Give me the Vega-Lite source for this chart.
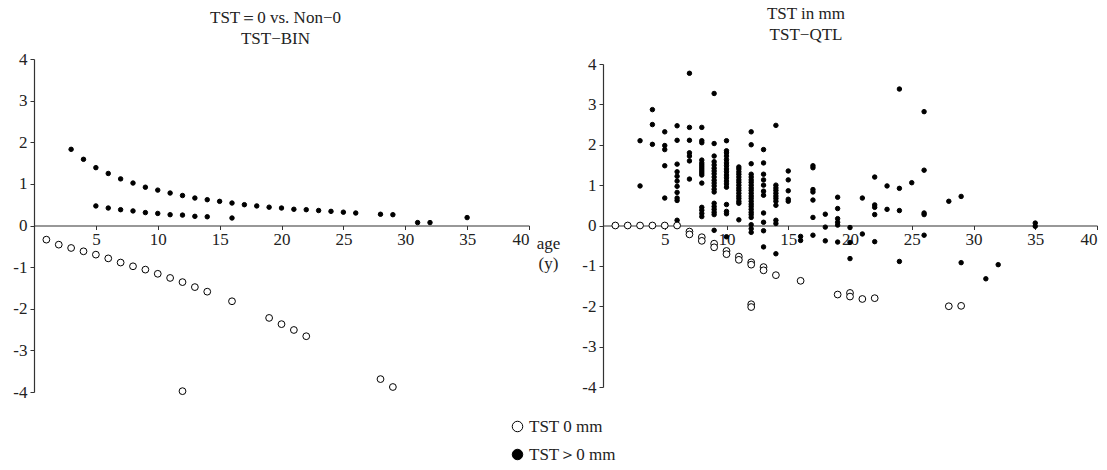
{
  "$schema": "https://vega.github.io/schema/vega-lite/v6.json",
  "background": "white",
  "padding": {"left": 12, "top": 5, "right": 5, "bottom": 5},
  "config": {
    "font": "Liberation Serif",
    "view": {"stroke": null},
    "axis": {
      "grid": false,
      "domainColor": "#333333",
      "domainWidth": 1.2,
      "tickColor": "#333333",
      "tickSize": 4,
      "labelFont": "Liberation Serif",
      "labelFontSize": 17,
      "labelColor": "#222222",
      "titleFont": "Liberation Serif",
      "titleFontSize": 17,
      "titleFontWeight": "normal",
      "titleColor": "#222222"
    },
    "legend": {
      "orient": "none", "legendX": 475, "legendY": 359, "direction": "vertical", "title": null,
      "labelFontSize": 17, "labelFont": "Liberation Serif", "labelColor": "#222222",
      "symbolType": "circle", "symbolSize": 110, "symbolStrokeColor": "black", "symbolStrokeWidth": 1, "symbolOpacity": 1,
      "rowPadding": 10, "labelOffset": 3
    },
    "title": {"font": "Liberation Serif", "fontSize": 17, "fontWeight": "normal", "color": "#222222", "lineHeight": 21}
  },
  "data": {
    "values": [
      {"p":"B","g":"f","a":3,"v":1.83},{"p":"B","g":"f","a":4,"v":1.59},{"p":"B","g":"f","a":5,"v":1.39},{"p":"B","g":"f","a":6,"v":1.25},{"p":"B","g":"f","a":7,"v":1.12},{"p":"B","g":"f","a":8,"v":1.02},{"p":"B","g":"f","a":9,"v":0.92},{"p":"B","g":"f","a":10,"v":0.85},{"p":"B","g":"f","a":11,"v":0.78},{"p":"B","g":"f","a":12,"v":0.72},{"p":"B","g":"f","a":13,"v":0.66},{"p":"B","g":"f","a":14,"v":0.62},{"p":"B","g":"f","a":15,"v":0.58},{"p":"B","g":"f","a":16,"v":0.54},{"p":"B","g":"f","a":17,"v":0.5},{"p":"B","g":"f","a":18,"v":0.47},{"p":"B","g":"f","a":19,"v":0.44},{"p":"B","g":"f","a":20,"v":0.42},{"p":"B","g":"f","a":21,"v":0.39},{"p":"B","g":"f","a":22,"v":0.38},{"p":"B","g":"f","a":23,"v":0.36},{"p":"B","g":"f","a":24,"v":0.34},{"p":"B","g":"f","a":25,"v":0.32},{"p":"B","g":"f","a":26,"v":0.3},{"p":"B","g":"f","a":28,"v":0.27},{"p":"B","g":"f","a":29,"v":0.26},{"p":"B","g":"f","a":31,"v":0.07},{"p":"B","g":"f","a":32,"v":0.07},{"p":"B","g":"f","a":35,"v":0.19},
      {"p":"B","g":"f","a":5,"v":0.47},{"p":"B","g":"f","a":6,"v":0.42},{"p":"B","g":"f","a":7,"v":0.38},{"p":"B","g":"f","a":8,"v":0.35},{"p":"B","g":"f","a":9,"v":0.31},{"p":"B","g":"f","a":10,"v":0.29},{"p":"B","g":"f","a":11,"v":0.26},{"p":"B","g":"f","a":12,"v":0.25},{"p":"B","g":"f","a":13,"v":0.22},{"p":"B","g":"f","a":14,"v":0.21},{"p":"B","g":"f","a":16,"v":0.18},
      {"p":"B","g":"o","a":1,"v":-0.34},{"p":"B","g":"o","a":2,"v":-0.46},{"p":"B","g":"o","a":3,"v":-0.54},{"p":"B","g":"o","a":4,"v":-0.62},{"p":"B","g":"o","a":5,"v":-0.7},{"p":"B","g":"o","a":6,"v":-0.79},{"p":"B","g":"o","a":7,"v":-0.89},{"p":"B","g":"o","a":8,"v":-0.98},{"p":"B","g":"o","a":9,"v":-1.06},{"p":"B","g":"o","a":10,"v":-1.16},{"p":"B","g":"o","a":11,"v":-1.26},{"p":"B","g":"o","a":12,"v":-1.36},{"p":"B","g":"o","a":13,"v":-1.48},{"p":"B","g":"o","a":14,"v":-1.59},{"p":"B","g":"o","a":16,"v":-1.82},{"p":"B","g":"o","a":19,"v":-2.22},{"p":"B","g":"o","a":20,"v":-2.37},{"p":"B","g":"o","a":21,"v":-2.51},{"p":"B","g":"o","a":22,"v":-2.66},{"p":"B","g":"o","a":12,"v":-3.98},{"p":"B","g":"o","a":28,"v":-3.69},{"p":"B","g":"o","a":29,"v":-3.88},

      {"p":"Q","g":"f","a":3,"v":2.1},{"p":"Q","g":"f","a":3,"v":0.98},
      {"p":"Q","g":"f","a":4,"v":2.87},{"p":"Q","g":"f","a":4,"v":2.5},{"p":"Q","g":"f","a":4,"v":2.01},
      {"p":"Q","g":"f","a":5,"v":2.32},{"p":"Q","g":"f","a":5,"v":1.98},{"p":"Q","g":"f","a":5,"v":1.88},{"p":"Q","g":"f","a":5,"v":1.48},{"p":"Q","g":"f","a":5,"v":0.68},
      {"p":"Q","g":"f","a":6,"v":2.47},{"p":"Q","g":"f","a":6,"v":2.11},{"p":"Q","g":"f","a":6,"v":1.52},{"p":"Q","g":"f","a":6,"v":1.33},{"p":"Q","g":"f","a":6,"v":1.22},{"p":"Q","g":"f","a":6,"v":1.1},{"p":"Q","g":"f","a":6,"v":0.97},{"p":"Q","g":"f","a":6,"v":0.82},{"p":"Q","g":"f","a":6,"v":0.68},{"p":"Q","g":"f","a":6,"v":0.62},{"p":"Q","g":"f","a":6,"v":0.13},
      {"p":"Q","g":"f","a":7,"v":3.77},{"p":"Q","g":"f","a":7,"v":2.43},{"p":"Q","g":"f","a":7,"v":2.11},{"p":"Q","g":"f","a":7,"v":1.8},{"p":"Q","g":"f","a":7,"v":1.72},{"p":"Q","g":"f","a":7,"v":1.6},{"p":"Q","g":"f","a":7,"v":1.15},
      {"p":"Q","g":"f","a":8,"v":2.43},{"p":"Q","g":"f","a":8,"v":2.1},{"p":"Q","g":"f","a":8,"v":2.05},{"p":"Q","g":"f","a":8,"v":1.62},{"p":"Q","g":"f","a":8,"v":1.55},{"p":"Q","g":"f","a":8,"v":1.5},{"p":"Q","g":"f","a":8,"v":1.45},{"p":"Q","g":"f","a":8,"v":1.4},{"p":"Q","g":"f","a":8,"v":1.35},{"p":"Q","g":"f","a":8,"v":1.3},{"p":"Q","g":"f","a":8,"v":1.25},{"p":"Q","g":"f","a":8,"v":1.05},{"p":"Q","g":"f","a":8,"v":0.45},{"p":"Q","g":"f","a":8,"v":0.38},{"p":"Q","g":"f","a":8,"v":0.3},{"p":"Q","g":"f","a":8,"v":0.22},
      {"p":"Q","g":"f","a":9,"v":3.27},{"p":"Q","g":"f","a":9,"v":2.03},{"p":"Q","g":"f","a":9,"v":1.72},{"p":"Q","g":"f","a":9,"v":1.58},{"p":"Q","g":"f","a":9,"v":1.5},{"p":"Q","g":"f","a":9,"v":1.42},{"p":"Q","g":"f","a":9,"v":1.35},{"p":"Q","g":"f","a":9,"v":1.28},{"p":"Q","g":"f","a":9,"v":1.2},{"p":"Q","g":"f","a":9,"v":1.12},{"p":"Q","g":"f","a":9,"v":1.05},{"p":"Q","g":"f","a":9,"v":0.98},{"p":"Q","g":"f","a":9,"v":0.9},{"p":"Q","g":"f","a":9,"v":0.83},{"p":"Q","g":"f","a":9,"v":0.55},{"p":"Q","g":"f","a":9,"v":0.47},{"p":"Q","g":"f","a":9,"v":0.4},{"p":"Q","g":"f","a":9,"v":0.33},{"p":"Q","g":"f","a":9,"v":0.27},{"p":"Q","g":"f","a":9,"v":-0.12},
      {"p":"Q","g":"f","a":10,"v":2.1},{"p":"Q","g":"f","a":10,"v":1.85},{"p":"Q","g":"f","a":10,"v":1.8},{"p":"Q","g":"f","a":10,"v":1.72},{"p":"Q","g":"f","a":10,"v":1.63},{"p":"Q","g":"f","a":10,"v":1.55},{"p":"Q","g":"f","a":10,"v":1.48},{"p":"Q","g":"f","a":10,"v":1.4},{"p":"Q","g":"f","a":10,"v":1.33},{"p":"Q","g":"f","a":10,"v":1.25},{"p":"Q","g":"f","a":10,"v":1.18},{"p":"Q","g":"f","a":10,"v":1.1},{"p":"Q","g":"f","a":10,"v":1.03},{"p":"Q","g":"f","a":10,"v":0.95},{"p":"Q","g":"f","a":10,"v":0.52},{"p":"Q","g":"f","a":10,"v":0.35},{"p":"Q","g":"f","a":10,"v":0.29},{"p":"Q","g":"f","a":10,"v":-0.28},
      {"p":"Q","g":"f","a":11,"v":1.45},{"p":"Q","g":"f","a":11,"v":1.4},{"p":"Q","g":"f","a":11,"v":1.33},{"p":"Q","g":"f","a":11,"v":1.27},{"p":"Q","g":"f","a":11,"v":1.2},{"p":"Q","g":"f","a":11,"v":1.13},{"p":"Q","g":"f","a":11,"v":1.07},{"p":"Q","g":"f","a":11,"v":1.0},{"p":"Q","g":"f","a":11,"v":0.93},{"p":"Q","g":"f","a":11,"v":0.87},{"p":"Q","g":"f","a":11,"v":0.8},{"p":"Q","g":"f","a":11,"v":0.73},{"p":"Q","g":"f","a":11,"v":0.67},{"p":"Q","g":"f","a":11,"v":0.6},{"p":"Q","g":"f","a":11,"v":0.55},{"p":"Q","g":"f","a":11,"v":0.14},
      {"p":"Q","g":"f","a":12,"v":2.32},{"p":"Q","g":"f","a":12,"v":2.0},{"p":"Q","g":"f","a":12,"v":1.53},{"p":"Q","g":"f","a":12,"v":1.27},{"p":"Q","g":"f","a":12,"v":1.2},{"p":"Q","g":"f","a":12,"v":1.13},{"p":"Q","g":"f","a":12,"v":1.07},{"p":"Q","g":"f","a":12,"v":1.0},{"p":"Q","g":"f","a":12,"v":0.93},{"p":"Q","g":"f","a":12,"v":0.87},{"p":"Q","g":"f","a":12,"v":0.8},{"p":"Q","g":"f","a":12,"v":0.73},{"p":"Q","g":"f","a":12,"v":0.67},{"p":"Q","g":"f","a":12,"v":0.6},{"p":"Q","g":"f","a":12,"v":0.53},{"p":"Q","g":"f","a":12,"v":0.47},{"p":"Q","g":"f","a":12,"v":0.4},{"p":"Q","g":"f","a":12,"v":0.33},{"p":"Q","g":"f","a":12,"v":0.27},{"p":"Q","g":"f","a":12,"v":0.2},{"p":"Q","g":"f","a":12,"v":0.02},{"p":"Q","g":"f","a":12,"v":-0.08},{"p":"Q","g":"f","a":12,"v":-0.17},
      {"p":"Q","g":"f","a":13,"v":1.88},{"p":"Q","g":"f","a":13,"v":1.55},{"p":"Q","g":"f","a":13,"v":1.27},{"p":"Q","g":"f","a":13,"v":1.13},{"p":"Q","g":"f","a":13,"v":1.0},{"p":"Q","g":"f","a":13,"v":0.85},{"p":"Q","g":"f","a":13,"v":0.75},{"p":"Q","g":"f","a":13,"v":0.31},{"p":"Q","g":"f","a":13,"v":0.08},{"p":"Q","g":"f","a":13,"v":-0.13},{"p":"Q","g":"f","a":13,"v":-0.53},
      {"p":"Q","g":"f","a":14,"v":2.48},{"p":"Q","g":"f","a":14,"v":1.0},{"p":"Q","g":"f","a":14,"v":0.93},{"p":"Q","g":"f","a":14,"v":0.87},{"p":"Q","g":"f","a":14,"v":0.8},{"p":"Q","g":"f","a":14,"v":0.73},{"p":"Q","g":"f","a":14,"v":0.67},{"p":"Q","g":"f","a":14,"v":0.6},{"p":"Q","g":"f","a":14,"v":0.5},{"p":"Q","g":"f","a":14,"v":0.13},{"p":"Q","g":"f","a":14,"v":0.05},{"p":"Q","g":"f","a":14,"v":-0.7},
      {"p":"Q","g":"f","a":15,"v":1.35},{"p":"Q","g":"f","a":15,"v":1.13},{"p":"Q","g":"f","a":15,"v":0.86},{"p":"Q","g":"f","a":15,"v":0.65},{"p":"Q","g":"f","a":15,"v":0.6},
      {"p":"Q","g":"f","a":16,"v":-0.27},{"p":"Q","g":"f","a":16,"v":-0.37},
      {"p":"Q","g":"f","a":17,"v":1.48},{"p":"Q","g":"f","a":17,"v":1.43},{"p":"Q","g":"f","a":17,"v":0.89},{"p":"Q","g":"f","a":17,"v":0.83},{"p":"Q","g":"f","a":17,"v":0.63},{"p":"Q","g":"f","a":17,"v":0.2},{"p":"Q","g":"f","a":17,"v":-0.24},
      {"p":"Q","g":"f","a":18,"v":0.28},{"p":"Q","g":"f","a":18,"v":-0.04},{"p":"Q","g":"f","a":18,"v":-0.38},
      {"p":"Q","g":"f","a":19,"v":0.7},{"p":"Q","g":"f","a":19,"v":0.42},{"p":"Q","g":"f","a":19,"v":0.17},{"p":"Q","g":"f","a":19,"v":0.08},{"p":"Q","g":"f","a":19,"v":0.01},{"p":"Q","g":"f","a":19,"v":-0.41},
      {"p":"Q","g":"f","a":20,"v":-0.05},{"p":"Q","g":"f","a":20,"v":-0.42},{"p":"Q","g":"f","a":20,"v":-0.82},
      {"p":"Q","g":"f","a":21,"v":0.68},{"p":"Q","g":"f","a":21,"v":-0.21},
      {"p":"Q","g":"f","a":22,"v":1.2},{"p":"Q","g":"f","a":22,"v":0.51},{"p":"Q","g":"f","a":22,"v":0.45},{"p":"Q","g":"f","a":22,"v":0.27},{"p":"Q","g":"f","a":22,"v":-0.4},
      {"p":"Q","g":"f","a":23,"v":0.98},{"p":"Q","g":"f","a":23,"v":0.4},
      {"p":"Q","g":"f","a":24,"v":3.38},{"p":"Q","g":"f","a":24,"v":0.92},{"p":"Q","g":"f","a":24,"v":0.37},{"p":"Q","g":"f","a":24,"v":-0.89},
      {"p":"Q","g":"f","a":25,"v":1.06},
      {"p":"Q","g":"f","a":26,"v":2.82},{"p":"Q","g":"f","a":26,"v":1.37},{"p":"Q","g":"f","a":26,"v":0.31},{"p":"Q","g":"f","a":26,"v":0.27},{"p":"Q","g":"f","a":26,"v":-0.24},
      {"p":"Q","g":"f","a":28,"v":0.6},
      {"p":"Q","g":"f","a":29,"v":0.72},{"p":"Q","g":"f","a":29,"v":-0.92},
      {"p":"Q","g":"f","a":31,"v":-1.32},
      {"p":"Q","g":"f","a":32,"v":-0.97},
      {"p":"Q","g":"f","a":35,"v":0.06},{"p":"Q","g":"f","a":35,"v":-0.02},
      {"p":"Q","g":"o","a":1,"v":0},{"p":"Q","g":"o","a":2,"v":0},{"p":"Q","g":"o","a":3,"v":0},{"p":"Q","g":"o","a":4,"v":0},{"p":"Q","g":"o","a":5,"v":0},{"p":"Q","g":"o","a":6,"v":0},
      {"p":"Q","g":"o","a":7,"v":-0.15},{"p":"Q","g":"o","a":7,"v":-0.22},{"p":"Q","g":"o","a":8,"v":-0.29},{"p":"Q","g":"o","a":8,"v":-0.38},{"p":"Q","g":"o","a":9,"v":-0.45},{"p":"Q","g":"o","a":9,"v":-0.54},{"p":"Q","g":"o","a":10,"v":-0.63},{"p":"Q","g":"o","a":10,"v":-0.71},{"p":"Q","g":"o","a":11,"v":-0.77},{"p":"Q","g":"o","a":11,"v":-0.85},{"p":"Q","g":"o","a":12,"v":-0.91},{"p":"Q","g":"o","a":12,"v":-0.97},{"p":"Q","g":"o","a":12,"v":-1.95},{"p":"Q","g":"o","a":12,"v":-2.02},{"p":"Q","g":"o","a":13,"v":-1.03},{"p":"Q","g":"o","a":13,"v":-1.11},{"p":"Q","g":"o","a":14,"v":-1.23},{"p":"Q","g":"o","a":16,"v":-1.37},{"p":"Q","g":"o","a":19,"v":-1.71},{"p":"Q","g":"o","a":20,"v":-1.67},{"p":"Q","g":"o","a":20,"v":-1.76},{"p":"Q","g":"o","a":21,"v":-1.82},{"p":"Q","g":"o","a":22,"v":-1.8},{"p":"Q","g":"o","a":28,"v":-2.0},{"p":"Q","g":"o","a":29,"v":-1.99}
    ]
  },
  "bounds": "flush",
  "center": true,
  "spacing": 74,
  "hconcat": [
    {
      "width": 495,
      "height": 333,
      "title": {"text": ["TST＝0 vs. Non−0", "TST−BIN"], "offset": 2, "dx": -6},
      "transform": [{"filter": "datum.p == 'B'"}],
      "encoding": {
        "x": {"field": "a", "type": "quantitative",
              "scale": {"domain": [0, 40], "nice": false, "zero": false},
              "axis": {"values": [5,10,15,20,25,30,35,40], "offset": -166.5, "labelPadding": 2,
                       "title": ["age", "(y)"], "titleX": 514, "titleY": 10, "titleAlign": "center", "titleBaseline": "top", "titleLineHeight": 20, "titleAnchor": null}},
        "y": {"field": "v", "type": "quantitative",
              "scale": {"domain": [-4, 4], "nice": false, "zero": false},
              "axis": {"values": [-4,-3,-2,-1,0,1,2,3,4], "title": null, "labelExpr": "toString(datum.value)", "labelPadding": 3}},
        "fill": {"field": "g", "type": "nominal",
                 "scale": {"domain": ["o", "f"], "range": ["white", "black"]},
                 "legend": {"labelExpr": "datum.value == 'o' ? 'TST 0 mm' : 'TST＞0 mm'"}}
      },
      "layer": [
        {"transform": [{"filter": "datum.g == 'f'"}],
         "mark": {"type": "circle", "stroke": "black", "strokeWidth": 1, "opacity": 1, "size": 20}},
        {"transform": [{"filter": "datum.g == 'o'"}],
         "mark": {"type": "circle", "stroke": "black", "strokeWidth": 1, "opacity": 1, "size": 46}}
      ]
    },
    {
      "width": 494,
      "height": 323,
      "title": {"text": ["TST in mm", "TST−QTL"], "offset": 11, "dx": -44},
      "transform": [{"filter": "datum.p == 'Q'"}],
      "encoding": {
        "x": {"field": "a", "type": "quantitative",
              "scale": {"domain": [0, 40], "nice": false, "zero": false},
              "axis": {"values": [5,10,15,20,25,30,35,40], "offset": -161.5, "labelPadding": 2, "title": null}},
        "y": {"field": "v", "type": "quantitative",
              "scale": {"domain": [-4, 4], "nice": false, "zero": false},
              "axis": {"values": [-4,-3,-2,-1,0,1,2,3,4], "title": null, "labelExpr": "toString(datum.value)", "labelPadding": 3}},
        "fill": {"field": "g", "type": "nominal",
                 "scale": {"domain": ["o", "f"], "range": ["white", "black"]},
                 "legend": {"labelExpr": "datum.value == 'o' ? 'TST 0 mm' : 'TST＞0 mm'"}}
      },
      "layer": [
        {"transform": [{"filter": "datum.g == 'f'"}],
         "mark": {"type": "circle", "stroke": "black", "strokeWidth": 1, "opacity": 1, "size": 20}},
        {"transform": [{"filter": "datum.g == 'o'"}],
         "mark": {"type": "circle", "stroke": "black", "strokeWidth": 1, "opacity": 1, "size": 46}}
      ]
    }
  ]
}
